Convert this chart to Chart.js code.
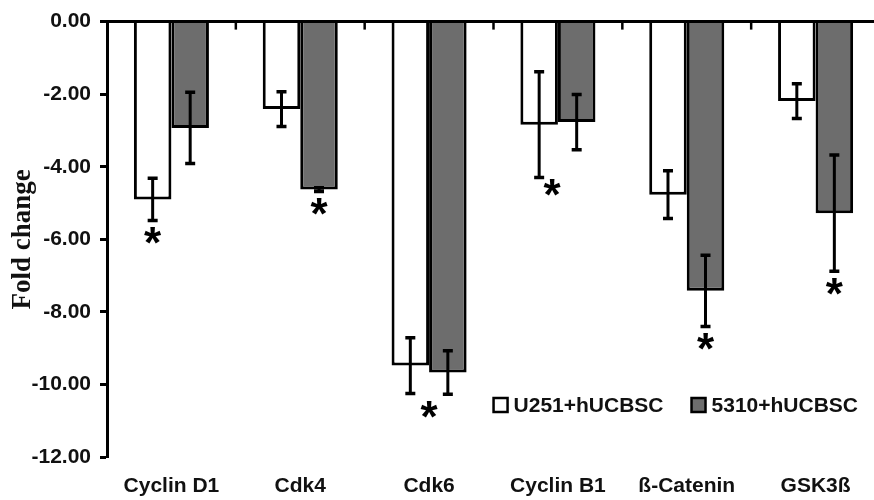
<!DOCTYPE html>
<html>
<head>
<meta charset="utf-8">
<script src="https://cdn.jsdelivr.net/npm/chart.js@4/dist/chart.umd.min.js"></script>
<style>
  html, body { margin: 0; padding: 0; background: #fff; overflow: hidden; }
</style>
</head>
<body>
<canvas id="foldChart" width="880" height="500"></canvas>
<script>
// categories + values
const genes = ["Cyclin D1", "Cdk4", "Cdk6", "Cyclin B1", "ß-Catenin", "GSK3ß"];
const u251 = [-4.90, -2.41, -9.48, -2.84, -4.77, -2.19];
const u251Err = [0.58, 0.48, 0.77, 1.46, 0.66, 0.48];
const s5310 = [-2.93, -4.63, -9.67, -2.77, -7.42, -5.28];
const s5310Err = [0.98, 0.05, 0.60, 0.76, 0.98, 1.60];
const yTicks = [0, -2, -4, -6, -8, -10, -12];
// where the significance star sits: 0 = U251 bar, 1 = 5310 bar, "mid" = between both
const stars = [0, 1, "mid", 0, 1, 1];

const errs = [u251Err, s5310Err];
const boldSans = "'Liberation Sans', Arial, sans-serif";

// error bars, asterisks, top zero axis and legend
const extras = {
    id: "extras",
    afterDatasetsDraw(chart) {
        const { ctx, chartArea, scales: { x, y } } = chart;
        ctx.save();
        ctx.strokeStyle = "#000";
        ctx.fillStyle = "#000";

        // error bars
        chart.data.datasets.forEach((ds, di) => {
            const meta = chart.getDatasetMeta(di);
            meta.data.forEach((bar, i) => {
                const v = ds.data[i], e = errs[di][i];
                const y1 = y.getPixelForValue(v + e), y2 = y.getPixelForValue(v - e);
                ctx.lineWidth = 3;
                ctx.beginPath();
                ctx.moveTo(bar.x, y1); ctx.lineTo(bar.x, y2);
                ctx.stroke();
                ctx.lineWidth = 3.5;
                ctx.beginPath();
                ctx.moveTo(bar.x - 5, y1); ctx.lineTo(bar.x + 5, y1);
                ctx.moveTo(bar.x - 5, y2); ctx.lineTo(bar.x + 5, y2);
                ctx.stroke();
            });
        });

        // top axis line at zero + category boundary ticks
        const y0 = y.getPixelForValue(0);
        ctx.lineWidth = 3;
        ctx.beginPath();
        ctx.moveTo(chartArea.left, y0); ctx.lineTo(chartArea.right, y0);
        ctx.stroke();
        const half = (x.getPixelForValue(1) - x.getPixelForValue(0)) / 2;
        ctx.lineWidth = 2.5;
        for (let i = 1; i < genes.length; i++) {
            const bx = x.getPixelForValue(i) - half;
            ctx.beginPath();
            ctx.moveTo(bx, y0); ctx.lineTo(bx, y0 + 8);
            ctx.stroke();
        }

        // asterisks
        ctx.font = "bold 44px " + boldSans;
        ctx.textAlign = "center";
        ctx.textBaseline = "alphabetic";
        const m = ctx.measureText("*");
        const midOff = (m.actualBoundingBoxAscent - m.actualBoundingBoxDescent) / 2;
        stars.forEach((s, i) => {
            let sx, bottom;
            if (s === "mid") {
                sx = x.getPixelForValue(i);
                bottom = Math.min(u251[i] - u251Err[i], s5310[i] - s5310Err[i]);
            } else {
                const ds = chart.data.datasets[s];
                sx = chart.getDatasetMeta(s).data[i].x;
                bottom = ds.data[i] - errs[s][i];
                if (i === 3) sx += 13;
            }
            const sy = y.getPixelForValue(bottom) + (i === 3 ? 10 : 15);
            ctx.fillText("*", sx, sy + midOff);
        });

        // legend inside the plot, lower right
        ctx.font = "bold 21px " + boldSans;
        ctx.textAlign = "left";
        ctx.textBaseline = "middle";
        const box = 14, gap = 6, spacing = 28;
        const items = chart.data.datasets.map(ds => ({ ds, w: ctx.measureText(ds.label).width }));
        let total = items.reduce((a, it) => a + box + gap + it.w, 0) + spacing * (items.length - 1);
        let lx = chartArea.right - 22 - total;
        const ly = chartArea.bottom - 52;
        items.forEach(it => {
            ctx.fillStyle = it.ds.backgroundColor;
            ctx.fillRect(lx, ly - box / 2, box, box);
            ctx.lineWidth = 2.5;
            ctx.strokeStyle = "#000";
            ctx.strokeRect(lx, ly - box / 2, box, box);
            ctx.fillStyle = "#111";
            ctx.fillText(it.ds.label, lx + box + gap, ly + 1);
            lx += box + gap + it.w + spacing;
        });
        ctx.restore();
    }
};

const ctx = document.getElementById("foldChart").getContext("2d");
new Chart(ctx, {
    type: "bar",
    data: {
        labels: genes,
        datasets: [
            { label: "U251+hUCBSC", data: u251, backgroundColor: "#ffffff", borderColor: "#000", borderWidth: 3 },
            { label: "5310+hUCBSC", data: s5310, backgroundColor: "#6d6d6d", borderColor: "#000", borderWidth: 3 }
        ]
    },
    options: {
        responsive: false,
        animation: false,
        layout: { padding: { top: 19, right: 0, left: 0, bottom: 0 } },
        datasets: { bar: { categoryPercentage: 0.5825, barPercentage: 1 } },
        plugins: { legend: { display: false }, tooltip: { enabled: false } },
        scales: {
            x: {
                grid: { display: false, drawTicks: false },
                border: { display: false },
                ticks: { color: "#111", font: { family: boldSans, size: 21, weight: "bold" }, padding: 17 },
                afterFit(scale) { scale.height = 43; }
            },
            y: {
                min: -12,
                max: 0,
                afterBuildTicks(scale) { scale.ticks = yTicks.map(v => ({ value: v })); },
                ticks: {
                    color: "#111",
                    font: { family: boldSans, size: 21, weight: "bold" },
                    padding: 9,
                    callback: v => v.toFixed(2)
                },
                grid: { drawOnChartArea: false, drawTicks: true, tickLength: 7, tickWidth: 3, tickColor: "#000" },
                border: { display: true, color: "#000", width: 3 },
                title: {
                    display: true,
                    text: "Fold change",
                    color: "#111",
                    font: { family: "'Liberation Serif', 'Times New Roman', serif", size: 27, weight: "bold" },
                    padding: { top: 7, bottom: 0 }
                },
                afterFit(scale) { scale.width = 107; }
            }
        }
    },
    plugins: [extras]
});
</script>
</body>
</html>
